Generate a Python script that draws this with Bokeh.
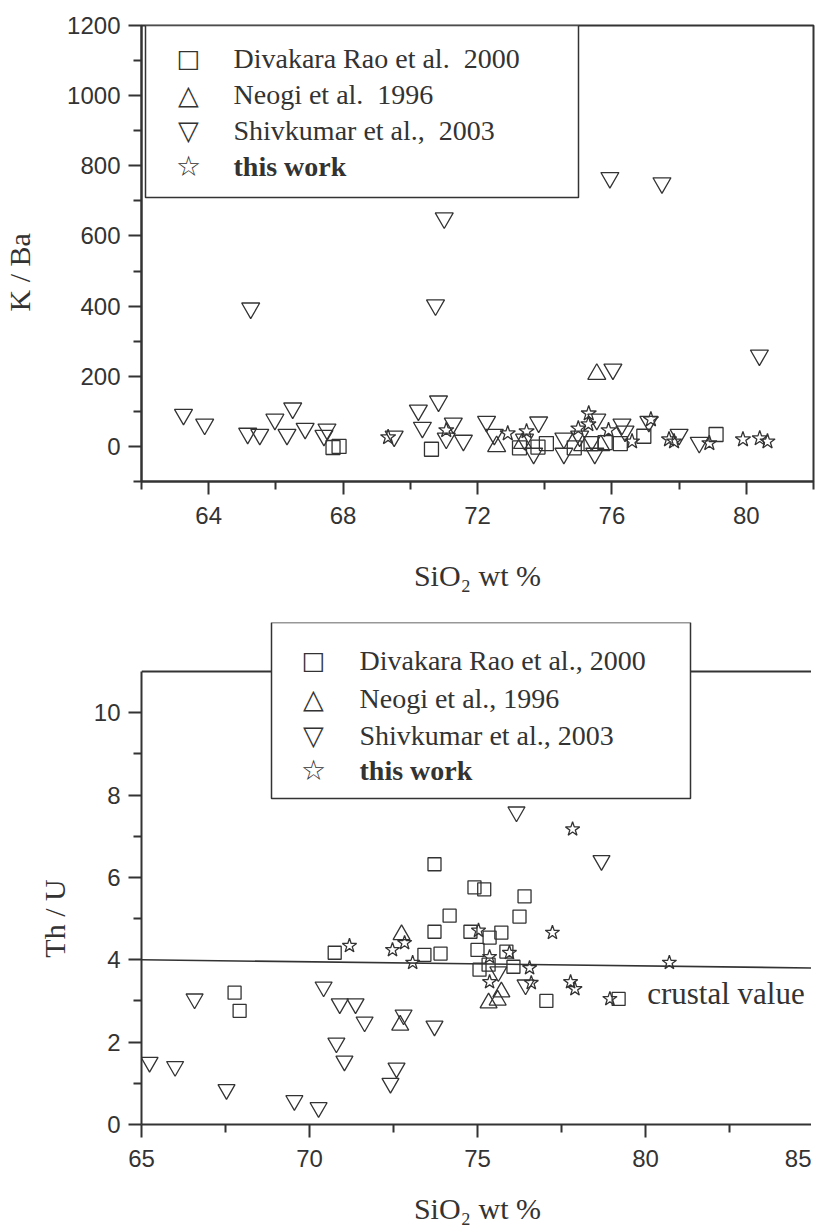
from bokeh.plotting import figure
from bokeh.layouts import column
from bokeh.models import Range1d, FixedTicker, Label, BoxAnnotation, LinearAxis
from bokeh.embed import file_html
from bokeh.resources import INLINE

# ---------------- data: upper panel (K/Ba vs SiO2) ----------------
top_div_x = [67.7, 67.88, 70.63, 73.25, 73.8, 74.05, 74.88, 75.38, 75.8, 76.25, 76.95, 79.1]
top_div_y = [-3, 0, -8, -4, -2, 8, -4, 8, 11, 8, 29, 34]

top_neo_x = [72.57, 73.34, 75.13, 75.67, 75.55]
top_neo_y = [0, 9, 3, 3, 206]

top_shiv_x = [63.25, 63.88, 65.16, 65.25, 65.52, 65.97, 66.33, 66.5, 66.87, 67.43,
              67.52, 69.52, 70.24, 70.36, 70.75, 70.84, 71.01, 71.07, 71.28, 71.58,
              72.27, 72.5, 73.4, 73.67, 73.82, 74.57, 74.57, 75.04, 75.49, 75.55,
              75.94, 76.03, 76.3, 76.39, 77.1, 77.49, 78.0, 78.6, 80.39]
top_shiv_y = [91, 63, 37, 394, 34, 77, 34, 109, 51, 31,
              49, 29, 103, 54, 403, 129, 651, 23, 66, 17,
              71, 34, 20, -20, 69, 23, -20, 29, -20, 77,
              766, 220, 63, 43, 71, 751, 34, 11, 260]

top_star_x = [69.34, 71.07, 72.9, 73.46, 75.0, 75.3, 75.31, 75.9, 76.6, 77.16, 77.7, 77.85, 78.9, 79.9, 80.4, 80.63]
top_star_y = [26, 46, 37, 43, 51, 63, 94, 46, 14, 77, 20, 14, 9, 20, 23, 14]

top_x_range = (62, 82)
top_y_range = (-100, 1200)
top_x_ticks = [64, 68, 72, 76, 80]
top_x_minor = [62, 66, 70, 74, 78, 82]
top_y_ticks = [0, 200, 400, 600, 800, 1000, 1200]
top_y_minor = [-100, 100, 300, 500, 700, 900, 1100]
top_labels = ["Divakara Rao et al.\u00a0\u00a02000", "Neogi et al.\u00a0\u00a01996",
              "Shivkumar et al.,\u00a0\u00a02003", "this work"]

# ---------------- data: lower panel (Th/U vs SiO2) ----------------
bot_div_x = [67.77, 67.92, 70.75, 73.42, 73.72, 73.72, 73.9, 74.17, 74.79, 74.91, 75.0,
             75.06, 75.2, 75.33, 75.36, 75.71, 75.86, 76.07, 76.25, 76.4, 77.05, 79.2]
bot_div_y = [3.2, 2.76, 4.17, 4.12, 6.32, 4.68, 4.15, 5.07, 4.68, 5.76, 4.24,
             3.76, 5.71, 3.88, 4.54, 4.66, 4.2, 3.83, 5.05, 5.54, 3.0, 3.05]

bot_neo_x = [72.7, 72.74, 75.33, 75.6, 75.71]
bot_neo_y = [2.41, 4.61, 2.95, 3.02, 3.22]

bot_shiv_x = [65.24, 66.0, 66.58, 67.53, 69.55, 70.27, 70.42, 70.8, 70.9, 71.04,
              71.37, 71.64, 72.41, 72.59, 72.8, 73.72, 75.62, 76.16, 76.43, 78.69]
bot_shiv_y = [1.51, 1.41, 3.05, 0.85, 0.58, 0.41, 3.34, 1.98, 2.93, 1.54,
              2.93, 2.49, 1.0, 1.37, 2.66, 2.39, 3.71, 7.59, 3.39, 6.41]

bot_star_x = [71.19, 72.47, 72.83, 73.07, 75.03, 75.36, 75.36, 75.95, 76.55, 76.6,
              77.23, 77.77, 77.83, 77.9, 78.94, 80.71]
bot_star_y = [4.34, 4.24, 4.41, 3.93, 4.71, 4.07, 3.46, 4.17, 3.8, 3.44,
              4.66, 3.46, 7.17, 3.29, 3.05, 3.93]

crust_x = [65, 85]
crust_y = [4.0, 3.8]

bot_x_range = (65, 85)
bot_y_range = (0, 11)
bot_x_ticks = [65, 70, 75, 80, 85]
bot_x_minor = [67.5, 72.5, 77.5, 82.5]
bot_y_ticks = [0, 2, 4, 6, 8, 10]
bot_y_minor = [1, 3, 5, 7, 9]
bot_labels = ["Divakara Rao et al., 2000", "Neogi et al., 1996",
              "Shivkumar et al., 2003", "this work"]

symbols = ["\u25a1", "\u25b3", "\u25bd", "\u2606"]
symbol_sizes = ["25px", "27px", "27px", "28px"]

INK = "#333333"
SERIF = "Liberation Serif"
SANS = "Liberation Sans"
NB = "\u00a0"


def style_axis(ax):
    ax.axis_line_color = INK
    ax.axis_line_width = 2
    ax.major_tick_line_color = INK
    ax.major_tick_line_width = 2
    ax.minor_tick_line_color = INK
    ax.minor_tick_line_width = 2
    ax.major_tick_out = 13
    ax.major_tick_in = 0
    ax.minor_tick_out = 8
    ax.minor_tick_in = 0
    ax.major_label_text_font = SANS
    ax.major_label_text_font_size = "24px"
    ax.major_label_text_color = INK
    ax.major_label_standoff = 12
    ax.axis_label_text_font = SERIF
    ax.axis_label_text_font_style = "normal"
    ax.axis_label_text_font_size = "30px"
    ax.axis_label_text_color = INK


def style(p, xt, xm, yt, ym, ylab_standoff, xlab_standoff):
    p.xgrid.visible = False
    p.ygrid.visible = False
    p.background_fill_color = "white"
    p.border_fill_color = "white"
    p.xaxis.ticker = FixedTicker(ticks=xt, minor_ticks=xm)
    p.yaxis.ticker = FixedTicker(ticks=yt, minor_ticks=ym)
    for ax in p.axis:
        style_axis(ax)
    p.yaxis.major_label_standoff = 8
    p.yaxis.axis_label_standoff = ylab_standoff
    p.xaxis.axis_label_standoff = xlab_standoff


def add_points(p, series, sizes):
    markers = ["square", "triangle", "inverted_triangle", "star"]
    for (xs, ys), m, s in zip(series, markers, sizes):
        p.scatter(xs, ys, marker=m, size=s, fill_color=None,
                  line_color=INK, line_width=1.3)


def add_legend(p, box, sym_x, text_x, rows, labels):
    p.add_layout(BoxAnnotation(left=box[0], right=box[1], top=box[2], bottom=box[3],
                               left_units="screen", right_units="screen",
                               top_units="screen", bottom_units="screen",
                               fill_color="white", fill_alpha=1.0,
                               line_color=INK, line_width=1.5, line_alpha=1.0))
    for i, (lab, sym, ssz, ry) in enumerate(zip(labels, symbols, symbol_sizes, rows)):
        p.add_layout(Label(x=sym_x, y=ry, x_units="screen", y_units="screen",
                           text=sym, text_font="DejaVu Sans", text_font_size=ssz,
                           text_color=INK, text_align="center", text_baseline="middle"))
        p.add_layout(Label(x=text_x, y=ry, x_units="screen", y_units="screen",
                           text=lab, text_font=SERIF, text_font_size="28px",
                           text_font_style="bold" if i == 3 else "normal",
                           text_color=INK, text_align="left", text_baseline="middle"))


# ---------------- upper figure ----------------
p1 = figure(frame_width=672, frame_height=456, min_border_left=133, min_border_right=6,
            min_border_top=25, min_border_bottom=134,
            x_range=Range1d(*top_x_range), y_range=Range1d(*top_y_range),
            toolbar_location=None, output_backend="svg")
style(p1, top_x_ticks, top_x_minor, top_y_ticks, top_y_minor, 28, 32)
p1.outline_line_color = INK
p1.outline_line_width = 2
p1.outline_line_alpha = 1
p1.xaxis.axis_label = "SiO\u2082 wt %"
p1.yaxis.axis_label = "K / Ba" + NB * 5
add_points(p1, [(top_div_x, top_div_y), (top_neo_x, top_neo_y),
                (top_shiv_x, top_shiv_y), (top_star_x, top_star_y)], [14, 18, 18, 16])
add_legend(p1, (4, 437, 456, 284), 47, 92, [423, 387, 351, 315], top_labels)

# ---------------- lower figure ----------------
# frame is extended upward so the legend box (which pokes above the plot box) is drawn;
# the plot box itself is drawn by bounded axes and a top line at y = 11
bot_frame_h = 502
bot_box_h = 453
bot_y_ext = bot_y_range[1] * bot_frame_h / bot_box_h
p2 = figure(frame_width=672, frame_height=bot_frame_h, min_border_left=132, min_border_right=7,
            min_border_top=7, min_border_bottom=100,
            x_range=Range1d(*bot_x_range), y_range=Range1d(bot_y_range[0], bot_y_ext),
            toolbar_location=None, output_backend="svg")
p2.outline_line_color = None
style(p2, bot_x_ticks, bot_x_minor, bot_y_ticks, bot_y_minor, 20, 22)
p2.yaxis.bounds = bot_y_range
p2.xaxis.axis_label = "SiO\u2082 wt %"
p2.yaxis.axis_label = "Th / U" + NB * 12
right_ax = LinearAxis(bounds=bot_y_range, ticker=FixedTicker(ticks=[]))
style_axis(right_ax)
right_ax.major_label_text_font_size = "0px"
p2.add_layout(right_ax, "right")
p2.line(list(bot_x_range), [bot_y_range[1], bot_y_range[1]], line_color=INK, line_width=2)
p2.line(crust_x, crust_y, line_color=INK, line_width=1.6)
add_points(p2, [(bot_div_x, bot_div_y), (bot_neo_x, bot_neo_y),
                (bot_shiv_x, bot_shiv_y), (bot_star_x, bot_star_y)], [13, 17, 17, 15])
p2.add_layout(Label(x=80.05, y=3.18, text="crustal value", text_font=SERIF,
                    text_font_size="31px", text_color=INK, text_baseline="middle"))
add_legend(p2, (130, 549, 502, 326), 172, 218, [464, 426, 389, 354], bot_labels)

layout = column(p1, p2)
open("out.html", "w").write(file_html(layout, INLINE))
